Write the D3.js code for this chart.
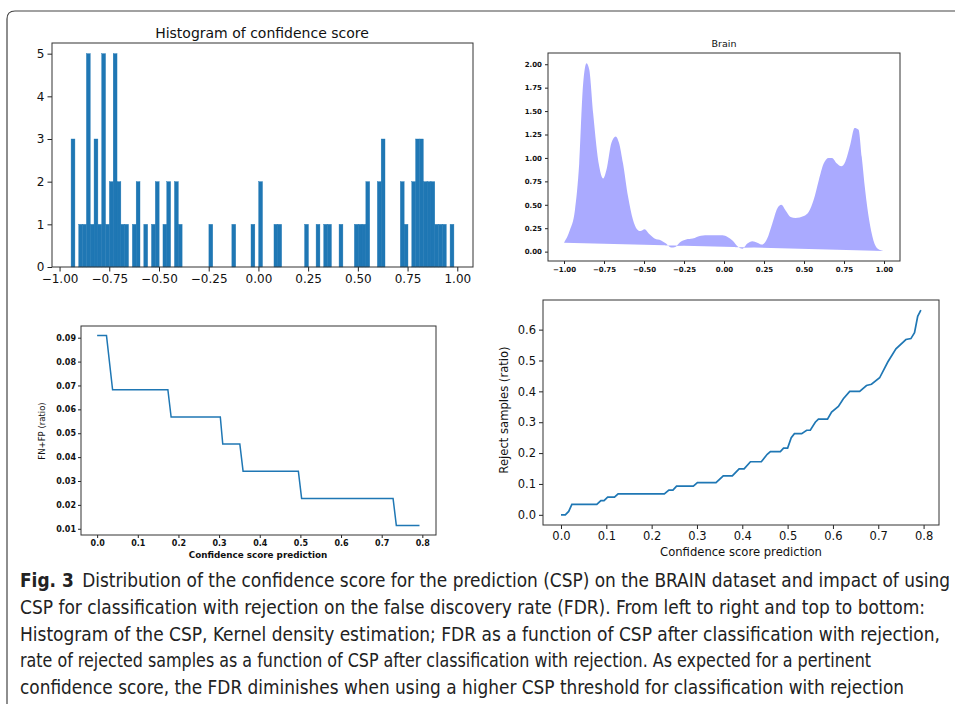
<!DOCTYPE html>
<html>
<head>
<meta charset="utf-8">
<script src="https://cdn.jsdelivr.net/npm/d3@7"></script>
<style>
body { margin: 0; background: #fff; }
svg { display: block; }
text { font-family: "DejaVu Sans", sans-serif; fill: #111; }
.cap text { font-family: "Liberation Sans Narrow", "DejaVu Sans Condensed", "Liberation Sans", sans-serif; fill: #222; }
</style>
</head>
<body>
<svg id="fig" width="955" height="704"></svg>
<script>

// histogram: 100 equal bins between the lowest and highest score
var histStart = -0.942, histEnd = 0.983;
var histCounts = [3,0,1,1,5,1,3,1,5,1, 2,5,2,1,1,0,1,2,0,1,
                  0,1,2,0,1,2,0,2,1,0, 0,0,0,0,0,0,1,0,0,0,
                  0,0,1,0,0,0,0,1,0,2, 0,0,0,1,1,0,0,0,0,0,
                  0,1,0,0,1,0,1,1,0,0, 1,0,0,0,1,1,1,2,0,0,
                  2,3,0,0,0,0,2,1,0,2, 3,3,2,2,2,1,1,1,0,1];
var histTicksX = [-1, -0.75, -0.5, -0.25, 0, 0.25, 0.5, 0.75, 1];
var histTicksY = [0, 1, 2, 3, 4, 5];

// kernel density ("Brain")
var kdeX = [-1.0,-0.963,-0.932,-0.905,-0.88,-0.859,-0.842,-0.818,-0.78,-0.755,-0.735,-0.704,-0.677,-0.656,-0.631,-0.6,-0.569,-0.544,-0.523,-0.496,-0.469,-0.434,-0.393,-0.362,-0.331,-0.304,-0.275,-0.237,-0.196,-0.144,-0.092,-0.009,0.022,0.053,0.09,0.115,0.146,0.177,0.208,0.239,0.27,0.302,0.333,0.358,0.385,0.416,0.447,0.499,0.53,0.56,0.592,0.623,0.654,0.675,0.706,0.733,0.758,0.789,0.816,0.841,0.861,0.882,0.907,0.934,0.961,1.0];
var kdeY = [0.096,0.23,0.44,0.94,1.8,2.01,1.94,1.48,0.91,0.78,0.87,1.16,1.23,1.16,0.94,0.59,0.34,0.24,0.22,0.24,0.19,0.14,0.12,0.086,0.043,0.05,0.10,0.13,0.14,0.17,0.175,0.175,0.157,0.12,0.05,0.032,0.086,0.11,0.096,0.075,0.14,0.30,0.46,0.50,0.44,0.37,0.36,0.38,0.425,0.55,0.76,0.94,1.0,1.0,0.94,0.91,0.96,1.14,1.32,1.30,1.01,0.66,0.34,0.12,0.032,0.007];
var kdeTicksX = [-1, -0.75, -0.5, -0.25, 0, 0.25, 0.5, 0.75, 1];
var kdeTicksY = [0, 0.25, 0.5, 0.75, 1, 1.25, 1.5, 1.75, 2];

// FN+FP ratio vs threshold
var fdrX = [0, 0.023, 0.038, 0.174, 0.182, 0.303, 0.309, 0.351, 0.359, 0.495, 0.503, 0.728, 0.736, 0.793];
var fdrY = [0.0909, 0.0909, 0.0682, 0.0682, 0.0568, 0.0568, 0.0455, 0.0455, 0.0341, 0.0341, 0.0227, 0.0227, 0.0114, 0.0114];
var fdrTicksX = [0, 0.1, 0.2, 0.3, 0.4, 0.5, 0.6, 0.7, 0.8];
var fdrTicksY = [0.01, 0.02, 0.03, 0.04, 0.05, 0.06, 0.07, 0.08, 0.09];

// rejected samples ratio vs threshold
var rejX = [0,0.0095,0.017,0.024,0.079,0.088,0.095,0.103,0.118,0.126,0.228,0.238,0.247,0.255,0.292,0.301,0.342,0.358,0.378,0.393,0.404,0.418,0.442,0.455,0.462,0.484,0.491,0.5,0.508,0.515,0.531,0.542,0.55,0.561,0.568,0.588,0.597,0.612,0.623,0.637,0.659,0.674,0.685,0.703,0.721,0.739,0.761,0.772,0.78,0.787,0.794];
var rejY = [0,0,0.011,0.034,0.034,0.046,0.046,0.057,0.057,0.068,0.068,0.08,0.08,0.093,0.093,0.104,0.104,0.126,0.126,0.149,0.149,0.172,0.172,0.196,0.205,0.205,0.216,0.216,0.25,0.263,0.263,0.274,0.274,0.30,0.31,0.31,0.333,0.351,0.376,0.4,0.4,0.419,0.423,0.444,0.495,0.538,0.568,0.571,0.59,0.643,0.663];
var rejTicksX = [0, 0.1, 0.2, 0.3, 0.4, 0.5, 0.6, 0.7, 0.8];
var rejTicksY = [0, 0.1, 0.2, 0.3, 0.4, 0.5, 0.6];

var captionLines = [
  "Distribution of the confidence score for the prediction (CSP) on the BRAIN dataset and impact of using",
  "CSP for classification with rejection on the false discovery rate (FDR). From left to right and top to bottom:",
  "Histogram of the CSP, Kernel density estimation; FDR as a function of CSP after classification with rejection,",
  "rate of rejected samples as a function of CSP after classification with rejection. As expected for a pertinent",
  "confidence score, the FDR diminishes when using a higher CSP threshold for classification with rejection"
];
var captionEnds = [950, 925, 940, 871, 904];

var svg = d3.select("#fig");
var blue = "#1f77b4";

// outer figure frame, rounded top-left corner
svg.append("path")
  .attr("d", "M7,704 L7,19 Q7,11 15,11 L955,11")
  .attr("fill", "none").attr("stroke", "#444").attr("stroke-width", 1.2);

function panel(c) {
  var x = d3.scaleLinear().domain(c.xd).range([c.l, c.r]);
  var y = d3.scaleLinear().domain(c.yd).range([c.b, c.t]);
  var g = svg.append("g");
  var body = g.append("g");
  function style(a) {
    a.select(".domain").remove();
    a.selectAll("text").style("font-size", c.fs + "px").style("font-weight", c.bold ? "bold" : null).attr("fill", "#111");
    a.selectAll("line").attr("stroke", "#222");
  }
  g.append("g").attr("transform", "translate(0," + c.b + ")")
    .call(d3.axisBottom(x).tickValues(c.tx).tickFormat(d3.format(c.fx)).tickSize(c.tick).tickPadding(c.pad))
    .call(style);
  g.append("g").attr("transform", "translate(" + c.l + ",0)")
    .call(d3.axisLeft(y).tickValues(c.ty).tickFormat(d3.format(c.fy)).tickSize(c.tick).tickPadding(c.pad))
    .call(style);
  g.append("rect").attr("x", c.l).attr("y", c.t).attr("width", c.r - c.l).attr("height", c.b - c.t)
    .attr("fill", "none").attr("stroke", "#333").attr("stroke-width", 1);
  return { x: x, y: y, g: body, outer: g };
}

// --- histogram
var h = panel({ l: 52, r: 473, t: 43, b: 267, xd: [-1.038, 1.079], yd: [0, 5.25],
  tx: histTicksX, ty: histTicksY, fx: ".2f", fy: "d", fs: 12, tick: 4.5, pad: 3 });
var binW = (histEnd - histStart) / histCounts.length;
h.g.selectAll("rect").data(histCounts).enter().append("rect")
  .attr("x", function(d, i) { return h.x(histStart + i * binW); })
  .attr("width", function(d, i) { return h.x(histStart + (i + 1) * binW) - h.x(histStart + i * binW); })
  .attr("y", function(d) { return h.y(d); })
  .attr("height", function(d) { return h.y(0) - h.y(d); })
  .attr("fill", blue).attr("stroke", blue).attr("stroke-width", 0.4);
h.outer.append("text").attr("x", 262).attr("y", 38).attr("text-anchor", "middle")
  .style("font-size", "14px").text("Histogram of confidence score");

// --- kde
var k = panel({ l: 548, r: 900, t: 53, b: 261, xd: [-1.1, 1.1], yd: [-0.1, 2.12],
  tx: kdeTicksX, ty: kdeTicksY, fx: ".2f", fy: ".2f", fs: 7, bold: true, tick: 3, pad: 3 });
k.g.append("path")
  .datum(kdeX.map(function(v, i) { return [v, kdeY[i]]; }))
  .attr("d", function(d) { return d3.line().x(function(p) { return k.x(p[0]); }).y(function(p) { return k.y(p[1]); }).curve(d3.curveMonotoneX)(d) + "Z"; })
  .attr("fill", "#aaaaff");
k.outer.append("text").attr("x", 724).attr("y", 47).attr("text-anchor", "middle")
  .style("font-size", "9.5px").text("Brain");

// --- FDR
var f = panel({ l: 81, r: 436, t: 326, b: 535, xd: [-0.0397, 0.8336], yd: [0.00739, 0.0949],
  tx: fdrTicksX, ty: fdrTicksY, fx: ".1f", fy: ".2f", fs: 8, bold: true, tick: 3, pad: 2 });
f.g.append("path")
  .datum(fdrX.map(function(v, i) { return [v, fdrY[i]]; }))
  .attr("d", d3.line().x(function(p) { return f.x(p[0]); }).y(function(p) { return f.y(p[1]); }))
  .attr("fill", "none").attr("stroke", blue).attr("stroke-width", 1.5);
f.outer.append("text").attr("x", 258).attr("y", 558).attr("text-anchor", "middle")
  .style("font-size", "8.8px").style("font-weight", "bold").text("Confidence score prediction");
f.outer.append("text").attr("transform", "translate(45,431) rotate(-90)").attr("text-anchor", "middle")
  .style("font-size", "8.5px").text("FN+FP (ratio)");

// --- rejected samples
var r = panel({ l: 543, r: 939, t: 300, b: 525, xd: [-0.0397, 0.834], yd: [-0.033, 0.696],
  tx: rejTicksX, ty: rejTicksY, fx: ".1f", fy: ".1f", fs: 11.5, tick: 4, pad: 3 });
r.g.append("path")
  .datum(rejX.map(function(v, i) { return [v, rejY[i]]; }))
  .attr("d", d3.line().x(function(p) { return r.x(p[0]); }).y(function(p) { return r.y(p[1]); }))
  .attr("fill", "none").attr("stroke", blue).attr("stroke-width", 1.7);
r.outer.append("text").attr("x", 741).attr("y", 556).attr("text-anchor", "middle")
  .style("font-size", "11.6px").text("Confidence score prediction");
r.outer.append("text").attr("transform", "translate(508,410) rotate(-90)").attr("text-anchor", "middle")
  .style("font-size", "11.6px").text("Reject samples (ratio)");

// --- caption (slightly stretched vertically, narrow face)
var cap = svg.append("g").attr("class", "cap");
captionLines.forEach(function(line, i) {
  var t = cap.append("text")
    .attr("transform", "translate(20," + (587 + i * 26.8) + ") scale(1,1.15)")
    .attr("textLength", captionEnds[i] - 20).attr("lengthAdjust", "spacingAndGlyphs")
    .style("font-size", "17px");
  if (i === 0) {
    t.append("tspan").style("font-weight", "bold").text("Fig. 3");
    t.append("tspan").text("\u2002" + line);
  } else {
    t.text(line);
  }
});

</script>
</body>
</html>
